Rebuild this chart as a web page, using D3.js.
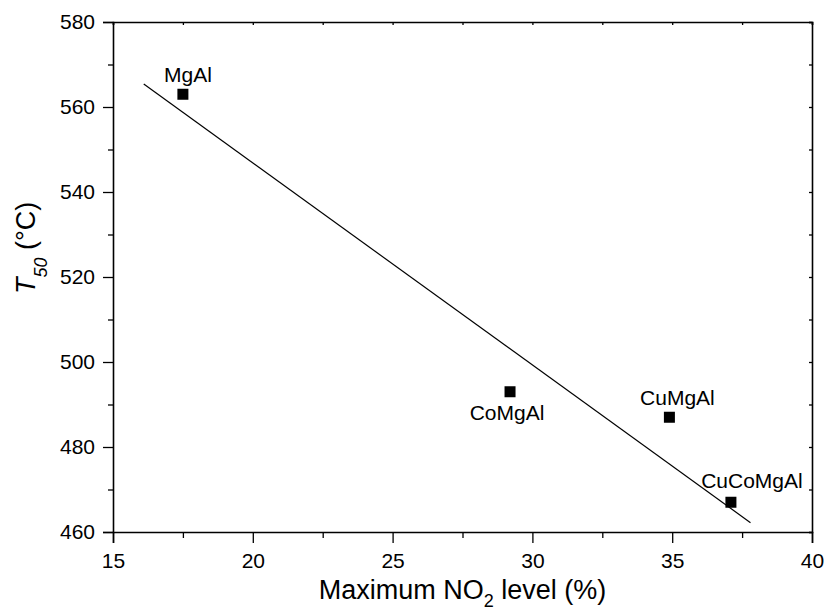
<!DOCTYPE html>
<html>
<head>
<meta charset="utf-8">
<script src="https://cdn.jsdelivr.net/npm/d3@7"></script>
<style>
  body { margin: 0; background: #fff; }
  text { font-family: Arial, "Liberation Sans", sans-serif; fill: #000; }
</style>
</head>
<body>
<svg width="826" height="611"></svg>
<script>
// data
var samples = ["MgAl", "CoMgAl", "CuMgAl", "CuCoMgAl"];
var no2Max = [17.5, 29.2, 34.9, 37.1];
var t50 = [563, 493, 487, 467];
var fitX = [16.1, 37.8];
var fitY = [565.4, 462.2];
var xTicks = [15, 20, 25, 30, 35, 40];
var yTicks = [460, 480, 500, 520, 540, 560, 580];

// label placement relative to each point (dx, dy of baseline)
var labelPos = [[5, -12], [-3, 28], [8, -12], [21, -14]];

var svg = d3.select("svg");
var mLeft = 113, mRight = 812, mTop = 22, mBottom = 532;

var x = d3.scaleLinear().domain([15, 40]).range([mLeft, mRight]);
var y = d3.scaleLinear().domain([460, 580]).range([mBottom, mTop]);

// minor ticks halfway
var xMinor = d3.range(17.5, 40, 5);
var yMinor = d3.range(470, 580, 20);

function styleAxis(g) {
    g.selectAll("path").attr("stroke", "#000").attr("stroke-width", 1.6);
    g.selectAll("line").attr("stroke", "#000").attr("stroke-width", 1.3);
    g.selectAll("text").attr("font-size", 21).style("font-family", "Arial, 'Liberation Sans', sans-serif");
}

// bottom
svg.append("g").attr("transform", "translate(0," + mBottom + ")")
    .call(d3.axisBottom(x).tickValues(xTicks).tickFormat(d3.format("d")).tickSizeOuter(0).tickSize(11).tickPadding(10))
    .call(styleAxis);
svg.append("g").attr("transform", "translate(0," + mBottom + ")")
    .call(d3.axisBottom(x).tickValues(xMinor).tickFormat("").tickSize(6))
    .call(styleAxis).select("path").remove();

// left
svg.append("g").attr("transform", "translate(" + mLeft + ",0)")
    .call(d3.axisLeft(y).tickValues(yTicks).tickFormat(d3.format("d")).tickSizeOuter(0).tickSize(10).tickPadding(8))
    .call(styleAxis);
svg.append("g").attr("transform", "translate(" + mLeft + ",0)")
    .call(d3.axisLeft(y).tickValues(yMinor).tickFormat("").tickSize(5))
    .call(styleAxis).select("path").remove();

// top and right, small inward ticks
svg.append("g").attr("transform", "translate(0," + mTop + ")")
    .call(d3.axisBottom(x).tickValues(xTicks.concat(xMinor)).tickFormat("").tickSizeOuter(0).tickSize(3))
    .call(styleAxis);
svg.append("g").attr("transform", "translate(" + mRight + ",0)")
    .call(d3.axisLeft(y).tickValues(yTicks.concat(yMinor)).tickFormat("").tickSizeOuter(0).tickSize(3))
    .call(styleAxis);

// fit line
var line = d3.line().x(function(d) { return x(d[0]); }).y(function(d) { return y(d[1]); });
svg.append("path")
    .datum(d3.zip(fitX, fitY))
    .attr("d", line)
    .attr("fill", "none")
    .attr("stroke", "#000")
    .attr("stroke-width", 1.2);

// points
var pts = samples.map(function(s, i) { return { name: s, x: no2Max[i], y: t50[i], off: labelPos[i] }; });
svg.selectAll("rect.pt").data(pts).enter().append("rect")
    .attr("class", "pt")
    .attr("x", function(d) { return x(d.x) - 5.5; })
    .attr("y", function(d) { return y(d.y) - 5.5; })
    .attr("width", 11)
    .attr("height", 11)
    .attr("fill", "#000");

svg.selectAll("text.lbl").data(pts).enter().append("text")
    .attr("class", "lbl")
    .attr("x", function(d) { return x(d.x) + d.off[0]; })
    .attr("y", function(d) { return y(d.y) + d.off[1]; })
    .attr("text-anchor", "middle")
    .attr("font-size", 21)
    .text(function(d) { return d.name; });

// x title
var xt = svg.append("text")
    .attr("x", (mLeft + mRight) / 2)
    .attr("y", 599)
    .attr("text-anchor", "middle")
    .attr("font-size", 27);
xt.append("tspan").text("Maximum NO");
xt.append("tspan").attr("font-size", 18).attr("dy", 8).text("2");
xt.append("tspan").attr("dy", -8).text(" level (%)");

// y title
var yt = svg.append("text")
    .attr("transform", "translate(35,294) rotate(-90)")
    .attr("text-anchor", "start")
    .attr("font-size", 27);
yt.append("tspan").attr("font-style", "italic").text("T");
yt.append("tspan").attr("font-style", "italic").attr("font-size", 18).attr("dy", 12).text("50");
yt.append("tspan").attr("dy", -12).text(" (\u00B0C)");
</script>
</body>
</html>
